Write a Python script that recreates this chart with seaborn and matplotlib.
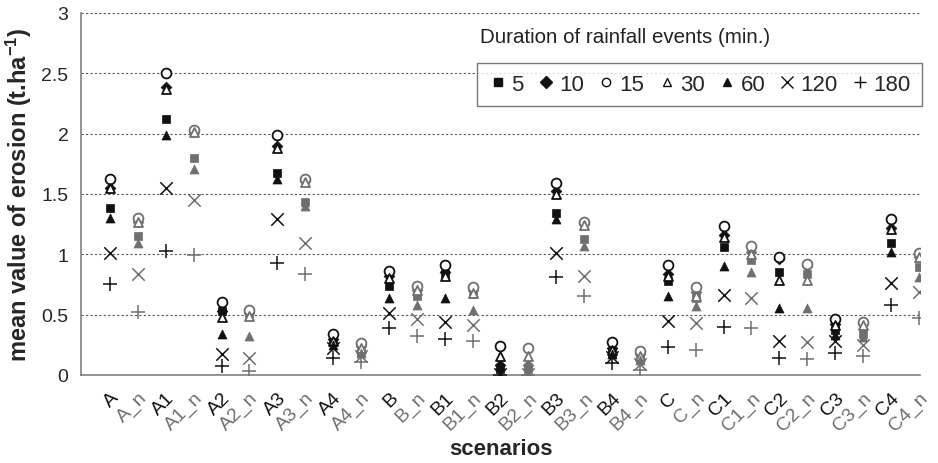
import matplotlib
matplotlib.use("Agg")
import matplotlib.pyplot as plt
from matplotlib.lines import Line2D
import seaborn as sns
import pandas as pd

categories = ["A", "A_n", "A1", "A1_n", "A2", "A2_n", "A3", "A3_n", "A4", "A4_n",
              "B", "B_n", "B1", "B1_n", "B2", "B2_n", "B3", "B3_n", "B4", "B4_n",
              "C", "C_n", "C1", "C1_n", "C2", "C2_n", "C3", "C3_n", "C4", "C4_n"]

d5 = [1.38, 1.15, 2.12, 1.80, 0.53, 0.51, 1.67, 1.43, 0.27, 0.19,
      0.74, 0.65, 0.84, 0.67, 0.05, 0.05, 1.34, 1.13, 0.18, 0.13,
      0.78, 0.64, 1.06, 0.95, 0.85, 0.84, 0.37, 0.34, 1.09, 0.89]
d10 = [1.55, 1.27, 2.39, 2.01, 0.53, 0.51, 1.90, 1.61, 0.30, 0.24,
       0.82, 0.70, 0.85, 0.70, 0.08, 0.08, 1.52, 1.25, 0.22, 0.17,
       0.84, 0.69, 1.16, 1.02, 0.96, 0.90, 0.42, 0.42, 1.22, 0.98]
d15 = [1.62, 1.30, 2.50, 2.03, 0.60, 0.54, 1.99, 1.62, 0.34, 0.26,
       0.86, 0.74, 0.91, 0.73, 0.24, 0.22, 1.59, 1.27, 0.27, 0.20,
       0.91, 0.73, 1.23, 1.07, 0.98, 0.92, 0.46, 0.44, 1.29, 1.01]
d30 = [1.55, 1.27, 2.37, 2.01, 0.48, 0.49, 1.88, 1.60, 0.28, 0.22,
       0.80, 0.70, 0.82, 0.68, 0.16, 0.16, 1.50, 1.24, 0.21, 0.16,
       0.82, 0.65, 1.14, 1.00, 0.79, 0.79, 0.41, 0.41, 1.21, 0.98]
d60 = [1.30, 1.09, 1.99, 1.71, 0.34, 0.32, 1.62, 1.40, 0.25, 0.18,
       0.64, 0.58, 0.64, 0.54, 0.07, 0.07, 1.29, 1.07, 0.17, 0.12,
       0.65, 0.57, 0.90, 0.85, 0.55, 0.55, 0.33, 0.31, 1.02, 0.81]
d120 = [1.01, 0.84, 1.55, 1.45, 0.17, 0.14, 1.29, 1.09, 0.22, 0.16,
        0.51, 0.46, 0.44, 0.41, 0.01, 0.01, 1.01, 0.82, 0.15, 0.09,
        0.45, 0.43, 0.66, 0.64, 0.28, 0.27, 0.28, 0.25, 0.76, 0.69]
d180 = [0.75, 0.52, 1.03, 0.99, 0.07, 0.03, 0.93, 0.84, 0.14, 0.11,
        0.39, 0.32, 0.30, 0.28, 0.00, 0.00, 0.81, 0.65, 0.10, 0.04,
        0.23, 0.21, 0.40, 0.39, 0.14, 0.13, 0.18, 0.16, 0.58, 0.47]

durations = ["5", "10", "15", "30", "60", "120", "180"]
series = [d5, d10, d15, d30, d60, d120, d180]

# marker styles per duration: (marker, filled, size)
styles = {
    "5": ("s", True, 30),
    "10": ("D", True, 30),
    "15": ("o", False, 50),
    "30": ("^", False, 42),
    "60": ("^", True, 42),
    "120": ("x", None, 80),
    "180": ("+", None, 90),
}

BASE = "#111111"
GRAY = "#6f6f6f"

sns.set_style("white")
plt.rcParams["font.family"] = ["Liberation Sans", "DejaVu Sans"]
plt.rcParams["mathtext.fontset"] = "custom"
plt.rcParams["mathtext.rm"] = "Liberation Sans:bold"
plt.rcParams["mathtext.bf"] = "Liberation Sans:bold"
plt.rcParams["mathtext.it"] = "Liberation Sans:bold"

rows = []
for dur, vals in zip(durations, series):
    for pos, (cat, v) in enumerate(zip(categories, vals)):
        rows.append({"pos": pos, "scenario": cat, "erosion": v, "duration": dur,
                     "group": "n" if cat.endswith("_n") else "base"})
df = pd.DataFrame(rows)

fig = plt.figure(figsize=(9.38, 4.64), dpi=100)
ax = fig.add_axes([0.0864, 0.19, 0.8946, 0.78])

for dur in durations:
    mk, filled, size = styles[dur]
    for grp, col in (("base", BASE), ("n", GRAY)):
        sub = df[(df["duration"] == dur) & (df["group"] == grp)]
        kw = dict(data=sub, x="pos", y="erosion", ax=ax, marker=mk, s=size,
                  legend=False, zorder=3)
        if filled is True:
            kw.update(color=col, edgecolor=col, linewidth=0.5)
        elif filled is False:
            kw.update(facecolor="white", edgecolor=col, linewidth=1.3)
        else:
            kw.update(color=col, linewidth=1.1)
        sns.scatterplot(**kw)

ax.set_xticks(range(len(categories)))
ax.set_xticklabels(categories, rotation=45, ha="right", rotation_mode="anchor",
                   fontsize=14)
for lab, cat in zip(ax.get_xticklabels(), categories):
    lab.set_color(GRAY if cat.endswith("_n") else BASE)

ax.set_xlim(-1.04, 29.05)
ax.set_ylim(0, 3)
yt = [0, 0.5, 1, 1.5, 2, 2.5, 3]
ax.set_yticks(yt)
ax.set_yticklabels(["0", "0.5", "1", "1.5", "2", "2.5", "3"], fontsize=14)
for y in yt[1:]:
    ax.axhline(y, color="#555555", linestyle=(0, (2, 2)), linewidth=0.8, zorder=1)

for s in ("top", "right"):
    ax.spines[s].set_visible(False)
for s in ("left", "bottom"):
    ax.spines[s].set_color("#808080")
    ax.spines[s].set_linewidth(1.2)
ax.tick_params(axis="x", direction="out", length=5, width=1, color="#808080", pad=5)
ax.tick_params(axis="y", direction="out", length=5, width=1, color="#808080", pad=4)

ax.set_xlabel("scenarios", fontsize=16, fontweight="bold", labelpad=3)
ax.set_ylabel(r"mean value of erosion (t.ha$^{\mathbf{-1}}$)", fontsize=17,
              fontweight="bold", labelpad=5)

handles = []
for dur in durations:
    mk, filled, size = styles[dur]
    if filled is True:
        h = Line2D([], [], linestyle="none", marker=mk, color=BASE, markersize=6 if mk != "s" else 5.5)
    elif filled is False:
        h = Line2D([], [], linestyle="none", marker=mk, markerfacecolor="white",
                   markeredgecolor=BASE, markersize=6, markeredgewidth=1.0)
    else:
        h = Line2D([], [], linestyle="none", marker=mk, color=BASE, markersize=9,
                   markeredgewidth=1.0)
    handles.append(h)

leg = ax.legend(handles, durations, ncol=7, loc="upper right",
                bbox_to_anchor=(1.002, 0.862), frameon=True, fancybox=False,
                fontsize=16, handletextpad=0.15, columnspacing=0.55,
                handlelength=0.9, borderpad=0.5, borderaxespad=0.0)
leg.get_frame().set_edgecolor("#555555")
leg.get_frame().set_linewidth(1.0)

ax.text(0.4756, 0.934, "Duration of rainfall events (min.)", transform=ax.transAxes,
        fontsize=14.8, ha="left", va="center", color="#222222")

fig.savefig("out.png", dpi=100)
